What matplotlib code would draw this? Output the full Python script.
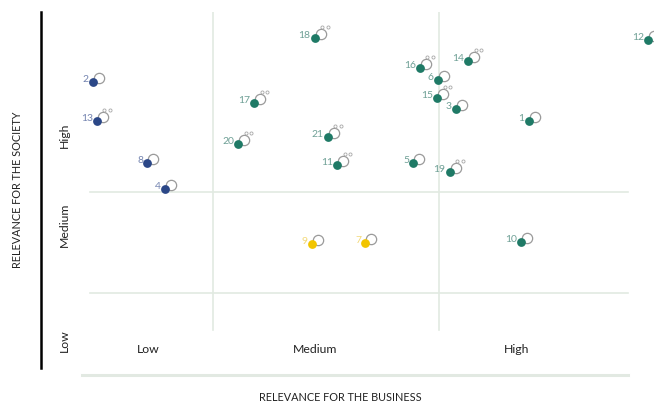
import matplotlib.pyplot as plt

plt.rcParams['font.family'] = ['Lato', 'DejaVu Sans']

# topics: id, business relevance (x), society relevance (y), group
ids = ['2', '13', '8', '4', '17', '20', '18', '16', '14', '6', '15', '3',
       '21', '11', '5', '19', '1', '12', '9', '7', '10']
bx = [1.9, 2.6, 11.4, 14.5, 30.1, 27.3, 40.7, 59.1, 67.5, 62.2, 62.1, 65.4,
      43.0, 44.6, 57.9, 64.3, 78.1, 99.0, 40.2, 49.5, 76.7]
sy = [80.7, 70.0, 58.4, 51.2, 74.9, 63.6, 92.8, 84.6, 86.5, 81.3, 76.3, 73.3,
      65.6, 57.9, 58.4, 55.9, 70.0, 92.3, 36.1, 36.4, 36.6]
group = ['b', 'b', 'b', 'b', 't', 't', 't', 't', 't', 't', 't', 't',
         't', 't', 't', 't', 't', 't', 'y', 'y', 't']
# topics that carry the little people icon
icons = ['13', '17', '20', '18', '16', '14', '15', '21', '11', '19']

x_levels = ['Low', 'Medium', 'High']
x_level_pos = [11.5, 40.7, 76.0]
y_levels = ['Low', 'Medium', 'High']
y_level_pos = [9.6, 41.3, 66.1]
x_splits = [22.9, 62.4]
y_splits = [22.6, 50.4]

dot_col = {'b': '#2b4787', 't': '#1f7a66', 'y': '#f2c500'}
lab_col = {'b': '#7484b0', 't': '#6fa096', 'y': '#f3d977'}

fig = plt.figure(figsize=(6.54, 4.05), dpi=100)
ax = fig.add_axes([82 / 654, 30 / 405, 572 / 654, 363 / 405])
ax.set_xlim(0, 100)
ax.set_ylim(0, 100)
ax.axis('off')

# quadrant lines
for xv in x_splits:
    ax.plot([xv, xv], [12.4, 100], color='#e2eae2', lw=1.2, zorder=1)
for yv in y_splits:
    ax.plot([1.4, 95.5], [yv, yv], color='#e2eae2', lw=1.2, zorder=1)
ax.plot([0, 95.5], [0, 0], color='#e2e9e2', lw=2.2, zorder=1, clip_on=False)

# points
for i, x, y, g in zip(ids, bx, sy, group):
    ax.scatter(x + 1.05, y + 1.1, s=55, facecolor='white', edgecolor='#9a9a9a',
               lw=0.9, zorder=3)
    ax.scatter(x, y, s=40, color=dot_col[g], zorder=4, lw=0)
    ax.annotate(i, (x, y), xytext=(-3, 2), textcoords='offset points',
                ha='right', va='center', fontsize=7.5, color=lab_col[g], zorder=5)
    if i in icons:
        ax.scatter([x + 1.3, x + 2.3], [y + 3.0, y + 3.0], s=5,
                   facecolor='white', edgecolor='#a8a8a8', lw=0.6, zorder=5)

# axis level labels
for lab, xv in zip(x_levels, x_level_pos):
    ax.text(xv, 6.9, lab, ha='center', va='center', fontsize=8.8, color='#222222')
for lab, yv in zip(y_levels, y_level_pos):
    ax.text(-3.0, yv, lab, ha='center', va='center', rotation=90, fontsize=8.8,
            color='#222222', clip_on=False)

# left black bar and titles
ax.plot([-7.2, -7.2], [1.9, 100], color='black', lw=1.8, clip_on=False)
ax.text(-11.2, 51, 'RELEVANCE FOR THE SOCIETY', rotation=90, ha='center',
        va='center', fontsize=7.8, color='#222222', clip_on=False)
ax.text(45.1, -6.3, 'RELEVANCE FOR THE BUSINESS', ha='center', va='center',
        fontsize=7.8, color='#222222', clip_on=False)

fig.savefig('out.png', dpi=100)
